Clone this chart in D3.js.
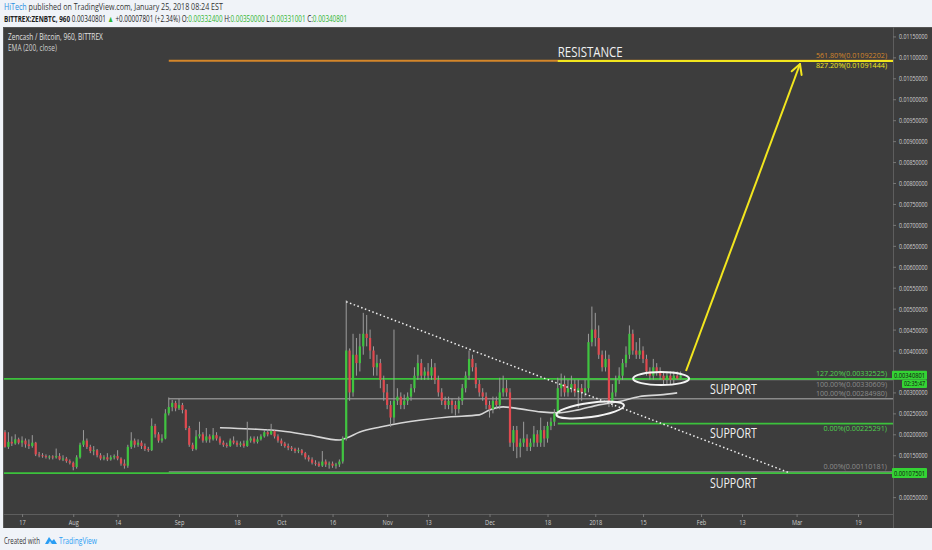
<!DOCTYPE html>
<html><head><meta charset="utf-8">
<script src="https://cdn.jsdelivr.net/npm/d3@7"></script>
<style>
html,body{margin:0;padding:0;background:#f0f3f8;}
svg{display:block;font-family:"Open Sans","Noto Sans",sans-serif;}
</style>
</head><body>
<svg id="c" width="932" height="550"></svg>
<script>
// ---------------- DATA ----------------
const firstCandle = "2017-07-12";
const opens = [.00205,.00170,.00182,.00178,.00188,.00180,.00185,.00176,.00172,.00180,
.00152,.00150,.00148,.00146,.00147,.00145,.00148,.00140,.00142,.00136,
.00132,.00122,.00145,.00175,.00185,.00170,.00160,.00162,.00150,.00142,
.00145,.00140,.00145,.00148,.00142,.00130,.00125,.00170,.00185,.00175,
.00180,.00172,.00165,.00162,.00220,.00200,.00185,.00190,.00250,.00265,
.00275,.00262,.00270,.00258,.00215,.00175,.00165,.00195,.00200,.00185,
.00195,.00188,.00198,.00190,.00180,.00175,.00172,.00185,.00180,.00175,
.00178,.00172,.00185,.00190,.00182,.00188,.00195,.00205,.00200,.00208,
.00195,.00185,.00178,.00172,.00168,.00165,.00160,.00162,.00155,.00145,
.00140,.00132,.00130,.00125,.00135,.00128,.00130,.00125,.00128,.00135,
.00190,.00400,.00300,.00390,.00370,.00410,.00440,.00430,.00400,.00360,
.00370,.00330,.00300,.00270,.00240,.00280,.00290,.00270,.00280,.00290,
.00310,.00340,.00370,.00340,.00350,.00340,.00360,.00330,.00300,.00280,
.00270,.00280,.00270,.00260,.00280,.00310,.00340,.00380,.00360,.00320,
.00300,.00290,.00270,.00260,.00280,.00270,.00300,.00310,.00300,.00180,
.00210,.00170,.00180,.00190,.00170,.00180,.00200,.00180,.00210,.00190,
.00220,.00230,.00250,.00310,.00320,.00300,.00310,.00320,.00300,.00310,
.00300,.00310,.00420,.00450,.00430,.00390,.00360,.00380,.00280,.00300,
.00330,.00340,.00370,.00390,.00440,.00400,.00390,.00400,.00380,.00350,
.00340,.00360,.00350,.00340,.00330,.00340,.00330,.00340,.003324];
const highs = [.00210,.00205,.00195,.00200,.00192,.00195,.00190,.00188,.00198,.00182,
.00158,.00155,.00152,.00150,.00150,.00166,.00155,.00150,.00146,.00140,
.00135,.00150,.00180,.00210,.00190,.00175,.00172,.00165,.00155,.00150,
.00155,.00150,.00152,.00162,.00145,.00140,.00175,.00205,.00190,.00188,
.00185,.00178,.00170,.00238,.00225,.00205,.00200,.00260,.00288,.00282,
.00280,.00285,.00275,.00260,.00220,.00180,.00210,.00230,.00205,.00215,
.00200,.00215,.00205,.00195,.00185,.00180,.00190,.00195,.00185,.00183,
.00185,.00230,.00195,.00195,.00195,.00200,.00210,.00212,.00225,.00210,
.00200,.00190,.00182,.00178,.00172,.00168,.00168,.00165,.00158,.00150,
.00145,.00138,.00135,.00160,.00140,.00135,.00135,.00132,.00140,.00195,
.00520,.00405,.00440,.00430,.00440,.00490,.00485,.00450,.00410,.00390,
.00380,.00340,.00320,.00280,.00450,.00310,.00300,.00295,.00300,.00320,
.00360,.00390,.00380,.00360,.00370,.00380,.00370,.00340,.00310,.00290,
.00290,.00285,.00280,.00290,.00320,.00350,.00400,.00390,.00370,.00330,
.00310,.00300,.00280,.00290,.00290,.00335,.00340,.00330,.00310,.00220,
.00220,.00190,.00230,.00200,.00190,.00220,.00210,.00240,.00220,.00230,
.00240,.00260,.00335,.00345,.00340,.00330,.00340,.00330,.00330,.00320,
.00330,.00440,.00505,.00490,.00460,.00400,.00400,.00390,.00320,.00340,
.00360,.00380,.00410,.00460,.00450,.00420,.00430,.00410,.00390,.00360,
.00380,.00370,.00360,.00350,.00350,.00350,.00350,.00350,.00350];
const lows = [.00168,.00165,.00172,.00175,.00176,.00170,.00168,.00165,.00168,.00148,
.00145,.00144,.00142,.00140,.00140,.00142,.00138,.00136,.00132,.00128,
.00114,.00118,.00142,.00170,.00165,.00155,.00150,.00145,.00138,.00138,
.00136,.00137,.00140,.00138,.00125,.00118,.00120,.00165,.00168,.00170,
.00165,.00160,.00158,.00160,.00192,.00180,.00180,.00188,.00245,.00255,
.00255,.00258,.00250,.00210,.00170,.00160,.00162,.00190,.00180,.00180,
.00180,.00185,.00185,.00175,.00170,.00168,.00170,.00176,.00170,.00170,
.00168,.00170,.00180,.00178,.00178,.00185,.00192,.00195,.00198,.00190,
.00180,.00172,.00168,.00162,.00160,.00155,.00155,.00150,.00140,.00135,
.00128,.00125,.00122,.00122,.00122,.00118,.00120,.00118,.00122,.00130,
.00185,.00280,.00290,.00340,.00350,.00390,.00410,.00380,.00340,.00340,
.00310,.00280,.00260,.00218,.00225,.00270,.00260,.00260,.00270,.00280,
.00300,.00330,.00330,.00330,.00330,.00330,.00320,.00290,.00270,.00260,
.00260,.00250,.00245,.00250,.00270,.00300,.00330,.00350,.00310,.00290,
.00280,.00260,.00240,.00250,.00260,.00260,.00290,.00290,.00170,.00160,
.00143,.00145,.00170,.00160,.00160,.00170,.00170,.00170,.00170,.00180,
.00210,.00220,.00240,.00290,.00290,.00290,.00300,.00290,.00263,.00280,
.00290,.00300,.00410,.00410,.00380,.00350,.00350,.00265,.00265,.00290,
.00320,.00330,.00360,.00380,.00390,.00380,.00380,.00370,.00340,.00330,
.00330,.00340,.00330,.00320,.00320,.00320,.00320,.00331,.00331];
const closes = [.00170,.00182,.00178,.00188,.00180,.00185,.00176,.00172,.00180,.00152,
.00150,.00148,.00146,.00147,.00145,.00148,.00140,.00142,.00136,.00132,
.00122,.00145,.00175,.00185,.00170,.00160,.00162,.00150,.00142,.00145,
.00140,.00145,.00148,.00142,.00130,.00125,.00170,.00185,.00175,.00180,
.00172,.00165,.00162,.00220,.00200,.00185,.00190,.00250,.00265,.00275,
.00262,.00270,.00258,.00215,.00175,.00165,.00195,.00200,.00185,.00195,
.00188,.00198,.00190,.00180,.00175,.00172,.00185,.00180,.00175,.00178,
.00172,.00185,.00190,.00182,.00188,.00195,.00205,.00200,.00208,.00195,
.00185,.00178,.00172,.00168,.00165,.00160,.00162,.00155,.00145,.00140,
.00132,.00130,.00125,.00135,.00128,.00130,.00125,.00128,.00135,.00190,
.00400,.00300,.00390,.00370,.00410,.00440,.00430,.00400,.00360,.00370,
.00330,.00300,.00270,.00240,.00280,.00290,.00270,.00280,.00290,.00310,
.00340,.00370,.00340,.00350,.00340,.00360,.00330,.00300,.00280,.00270,
.00280,.00270,.00260,.00280,.00310,.00340,.00380,.00360,.00320,.00300,
.00290,.00270,.00260,.00280,.00270,.00300,.00310,.00300,.00180,.00210,
.00170,.00180,.00190,.00170,.00180,.00200,.00180,.00210,.00190,.00220,
.00230,.00250,.00310,.00320,.00300,.00310,.00320,.00300,.00310,.00300,
.00310,.00420,.00450,.00430,.00390,.00360,.00380,.00280,.00300,.00330,
.00340,.00370,.00390,.00440,.00400,.00390,.00400,.00380,.00350,.00340,
.00360,.00350,.00340,.00330,.00340,.00330,.00340,.00333,.00340801];

const emaDates = ["2017-09-13","2017-09-22","2017-10-01","2017-10-09","2017-10-18","2017-10-20",
"2017-10-24","2017-10-30","2017-11-05","2017-11-11","2017-11-19","2017-11-28","2017-12-01",
"2017-12-05","2017-12-10","2017-12-16","2017-12-21","2017-12-27","2018-01-02","2018-01-08",
"2018-01-14","2018-01-20","2018-01-25"];
const emaValues = [0.002158,0.002127,0.002079,0.001983,0.001863,0.00191,
0.002055,0.002175,0.00227,0.002343,0.002415,0.002463,0.002583,
0.002655,0.002607,0.002535,0.002511,0.002583,0.002703,0.002782,
0.002902,0.002942,0.00299];

const timeTickDates = ["2017-07-17","2017-08-01","2017-08-14","2017-09-01","2017-09-18","2017-10-01",
"2017-10-16","2017-11-01","2017-11-13","2017-12-01","2017-12-18","2018-01-01","2018-01-15",
"2018-02-01","2018-02-13","2018-03-01","2018-03-19"];
const timeTickLabels = ["17","Aug","14","Sep","18","Oct","16","Nov","13","Dec","18","2018","15","Feb","13","Mar","19"];
// 0.001 and 0.0035 are covered by the price boxes in the reference
const priceTicks = [0.0005,0.0015,0.002,0.0025,0.003,0.004,0.0045,0.005,0.0055,0.006,
0.0065,0.007,0.0075,0.008,0.0085,0.009,0.0095,0.01,0.0105,0.011,0.0115];

const levelValues = [0.01092202,0.01091444,0.00330609,0.00332525,0.0028498,0.00225291,0.00110181,0.00107501];
const levelStarts = ["2017-08-29","2017-12-21","2017-12-21",null,"2017-08-29","2017-12-21","2017-08-29",null];
const levelKinds  = ["orange","yellow","gray","green","gray","green","gray","green"];
const levelLabels = ["561.80%(0.01092202)","827.20%(0.01091444)","100.00%(0.00330609)","127.20%(0.00332525)",
"100.00%(0.00284980)","0.00%(0.00225291)","0.00%(0.00110181)",null];
const levelLabelSide = ["above","below","below","above","above","below","above",null];

const noteTexts  = ["RESISTANCE","SUPPORT","SUPPORT","SUPPORT"];
const noteDates  = ["2017-12-21","2018-02-03T14:00","2018-02-03T14:00","2018-02-03T14:00"];
const notePrices = [0.011128,0.003082,0.002031,0.00084];

const trendDates  = ["2017-10-20","2018-02-27"];
const trendPrices = [0.005166,0.001076];
const arrowDates  = ["2018-01-27T14:00","2018-03-02"];
const arrowPrices = [0.003511,0.010841];
const ellipseDates  = ["2017-12-30T12:00","2018-01-20T07:00"];
const ellipsePrices = [0.00258,0.003332];
const ellipseDays   = [10,8.2];
const ellipseHeights= [0.00017,0.000155];
const ellipseTilt   = [-8,0];

const lastPrice = 0.00340801, countdown = "02:35:47", lowLevelPrice = 0.00107501;

// ---------------- DRAW ----------------
const P = s => new Date(s.length===10 ? s+"T00:00Z" : s+"Z");
const svg = d3.select("#c");
const X0=4, X1=893, Y0=27, Y1=514;
const x = d3.scaleUtc().domain([new Date(Date.UTC(2017,6,11,17)), new Date(Date.UTC(2018,2,29,6))]).range([X0,X1]);
const y = d3.scaleLinear().domain([0.0000971,0.011725]).range([Y1,Y0]);
const col = {green:"#3fc43f",red:"#e0494f",wick:"#9c9c9c",lgreen:"#3cc23c",orange:"#d4862a",yellow:"#f2e61e",gray:"#8a8a8a",bg:"#3d3d3d"};

function ctext(parent, tx, ty, w, attrs, build){
  const t = parent.append("text").attr("x",0).attr("y",0);
  Object.entries(attrs||{}).forEach(([k,v])=>t.attr(k,v));
  build(t);
  const nat = t.node().getComputedTextLength() || 1;
  t.attr("transform",`translate(${tx},${ty}) scale(${(w/nat).toFixed(4)},1)`);
  return t;
}
function condenseInPlace(sel, f){
  sel.each(function(){
    const t=d3.select(this);
    const tx=+t.attr("x")||0, ty=+t.attr("y")||0;
    t.attr("x",0).attr("y",0).attr("transform",`translate(${tx},${ty}) scale(${f},1)`);
  });
}

// header
ctext(svg,4,10,219,{"font-size":9,fill:"#333"},t=>{
  t.append("tspan").attr("fill","#2a8fe0").text("HiTech");
  t.append("tspan").text(" published on TradingView.com, January 25, 2018 08:24 EST");
});
ctext(svg,4,22,344,{"font-size":9,fill:"#222"},t=>{
  t.append("tspan").attr("font-weight","bold").text("BITTREX:ZENBTC, 960");
  t.append("tspan").text(" 0.00340801 ");
  t.append("tspan").attr("fill","#2fb52f").text("▲");
  t.append("tspan").text(" +0.00007801 (+2.34%) O:");
  t.append("tspan").attr("fill","#2fb52f").text("0.00332400");
  t.append("tspan").text(" H:");
  t.append("tspan").attr("fill","#2fb52f").text("0.00350000");
  t.append("tspan").text(" L:");
  t.append("tspan").attr("fill","#2fb52f").text("0.00331001");
  t.append("tspan").text(" C:");
  t.append("tspan").attr("fill","#2fb52f").text("0.00340801");
});

// panel
svg.append("rect").attr("x",3).attr("y",Y0).attr("width",932-3).attr("height",528-Y0).attr("fill",col.bg);
svg.append("line").attr("x1",3.5).attr("x2",3.5).attr("y1",Y0).attr("y2",528).attr("stroke","#5a5a5a");
svg.append("line").attr("x1",3).attr("x2",932).attr("y1",Y0+0.5).attr("y2",Y0+0.5).attr("stroke","#555");
svg.append("line").attr("x1",X1+0.5).attr("x2",X1+0.5).attr("y1",Y0).attr("y2",528).attr("stroke","#5e5e5e");
svg.append("line").attr("x1",3).attr("x2",X1).attr("y1",Y1+0.5).attr("y2",Y1+0.5).attr("stroke","#5e5e5e");

svg.append("clipPath").attr("id","plot").append("rect").attr("x",X0).attr("y",Y0).attr("width",X1-X0).attr("height",Y1-Y0);
const g = svg.append("g").attr("clip-path","url(#plot)");
const lab = svg.append("g");

ctext(lab,8,40,95,{"font-size":9,fill:"#e0e0e0"},t=>t.text("Zencash / Bitcoin, 960, BITTREX"));
ctext(lab,8,51,49,{"font-size":9,fill:"#cfcfcf"},t=>t.text("EMA (200, close)"));

// levels
const levelColor = k => ({orange:col.orange,yellow:col.yellow,gray:col.gray,green:col.lgreen})[k];
const levelWidth = k => ({orange:2,yellow:2,gray:1.5,green:1.8})[k];
levelValues.forEach((v,i)=>{
  const xs = levelStarts[i] ? x(P(levelStarts[i])) : X0;
  g.append("line").attr("x1",xs).attr("x2",X1).attr("y1",y(v)).attr("y2",y(v))
    .attr("stroke",levelColor(levelKinds[i])).attr("stroke-width",levelWidth(levelKinds[i]));
});

// EMA
g.append("path").datum(emaDates.map((d,i)=>[P(d),emaValues[i]]))
  .attr("fill","none").attr("stroke","#d6d6d6").attr("stroke-width",1.6)
  .attr("d",d3.line().x(d=>x(d[0])).y(d=>y(d[1])).curve(d3.curveMonotoneX));

// candles
const start = P(firstCandle);
const candles = opens.map((o,i)=>({t:d3.utcDay.offset(start,i),o,h:highs[i],l:lows[i],c:closes[i]}));
const cg = g.append("g");
cg.selectAll("line.w").data(candles).join("line").attr("class","w")
  .attr("x1",d=>x(d.t)).attr("x2",d=>x(d.t)).attr("y1",d=>y(d.h)).attr("y2",d=>y(d.l))
  .attr("stroke",col.wick).attr("stroke-width",1);
cg.selectAll("rect").data(candles).join("rect")
  .attr("x",d=>x(d.t)-1.1).attr("width",2.2)
  .attr("y",d=>y(Math.max(d.o,d.c))).attr("height",d=>Math.max(1,Math.abs(y(d.o)-y(d.c))))
  .attr("fill",d=>d.c>=d.o?col.green:col.red);

// trend line
g.append("line").attr("x1",x(P(trendDates[0]))).attr("y1",y(trendPrices[0]))
  .attr("x2",x(P(trendDates[1]))).attr("y2",y(trendPrices[1]))
  .attr("stroke","#f0f0f0").attr("stroke-width",1.5).attr("stroke-dasharray","1.5,2.5");

// ellipses
ellipseDates.forEach((d,i)=>{
  const cx=x(P(d)), cy=y(ellipsePrices[i]);
  const rx = x(d3.utcHour.offset(P(d),Math.round(ellipseDays[i]*24))) - cx;
  const ry = y(0) - y(ellipseHeights[i]);
  g.append("ellipse").attr("cx",cx).attr("cy",cy).attr("rx",rx).attr("ry",ry)
    .attr("transform",`rotate(${ellipseTilt[i]},${cx},${cy})`)
    .attr("fill","none").attr("stroke","#f4f4f4").attr("stroke-width",2);
});

// arrow
{
  const ax1=x(P(arrowDates[0])), ay1=y(arrowPrices[0]), ax2=x(P(arrowDates[1])), ay2=y(arrowPrices[1]);
  g.append("line").attr("x1",ax1).attr("y1",ay1).attr("x2",ax2).attr("y2",ay2).attr("stroke",col.yellow).attr("stroke-width",2);
  const ang=Math.atan2(ay1-ay2,ax1-ax2), L=11, sp=0.5;
  [ang-sp,ang+sp].forEach(a=>g.append("line").attr("x1",ax2).attr("y1",ay2)
    .attr("x2",ax2+L*Math.cos(a)).attr("y2",ay2+L*Math.sin(a)).attr("stroke",col.yellow).attr("stroke-width",2).attr("stroke-linecap","round"));
}

// level labels
levelValues.forEach((v,i)=>{
  if(!levelLabels[i]) return;
  const yy = y(v) + (levelLabelSide[i]==="above" ? -2.5 : 7.5);
  const kind = levelKinds[i];
  ctext(lab,887,yy,levelLabels[i].length*3.75,{"font-size":8,"text-anchor":"end",
    fill: kind==="gray" ? "#8c8c8c" : kind==="green" ? "#4fd34f" : levelColor(kind)}, t=>t.text(levelLabels[i]));
});

// notes
noteTexts.forEach((s,i)=>{
  ctext(lab,x(P(noteDates[i])),y(notePrices[i])+5,s==="RESISTANCE"?65:47,{"font-size":14,fill:"#f2f2f2"},t=>t.text(s));
});

// right axis
const ra = svg.append("g").attr("transform",`translate(${X1},0)`)
  .call(d3.axisRight(y).tickValues(priceTicks).tickFormat(d3.format(".8f")).tickSize(3).tickPadding(3));
ra.select(".domain").remove();
ra.selectAll("line").attr("stroke","#777");
ra.selectAll("text").attr("fill","#cfcfcf").attr("font-size",8).attr("font-family","Open Sans");
condenseInPlace(ra.selectAll("text"),0.66);

// bottom axis
const ba = svg.append("g").attr("transform",`translate(0,${Y1})`)
  .call(d3.axisBottom(x).tickValues(timeTickDates.map(P)).tickFormat((d,i)=>timeTickLabels[i]).tickSize(3).tickPadding(2));
ba.select(".domain").remove();
ba.selectAll("line").attr("stroke","#777");
ba.selectAll("text").attr("fill","#cfcfcf").attr("font-size",8).attr("font-family","Open Sans");
condenseInPlace(ba.selectAll("text"),0.7);

// price boxes
function priceBox(v, txt, yOff, bx, bw, bh, fs){
  const cy=y(v)+yOff;
  svg.append("rect").attr("x",bx).attr("y",cy-bh/2).attr("width",bw).attr("height",bh).attr("fill","#34d334").attr("rx",1);
  ctext(svg,bx+bw/2,cy+fs*0.36,bw-4,{"font-size":fs,"text-anchor":"middle",fill:"#111"},t=>t.text(txt));
}
priceBox(lastPrice, d3.format(".8f")(lastPrice), 0, 892, 35, 9, 8);
priceBox(lastPrice, countdown, 8.6, 902, 25, 8, 6.5);
priceBox(lowLevelPrice, d3.format(".8f")(lowLevelPrice), 0, 892, 35, 10, 8);

// footer
ctext(svg,4,544,36,{"font-size":9,fill:"#333"},t=>t.text("Created with"));
const logo = svg.append("g").attr("transform","translate(45,536)");
logo.append("path").attr("d","M0,8 L4,1 L7,5 L9,3 L12,8 Z").attr("fill","#2a9df4");
logo.append("path").attr("d","M3,8 L5,5 L7,8 Z").attr("fill","#bfe2fb");
ctext(svg,59,544,38,{"font-size":9,fill:"#2a9df4"},t=>t.text("TradingView"));
</script>
</body></html>
